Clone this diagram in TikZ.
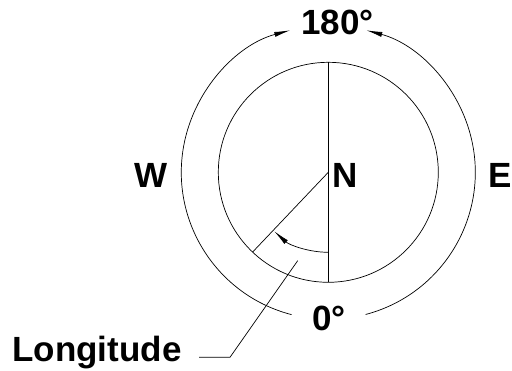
\documentclass[tikz,border=0pt]{standalone}
\usepackage{fontspec}
\setmainfont{Liberation Sans}
\usetikzlibrary{arrows.meta,calc}
\tikzset{
  thin line/.style={line width=0.7pt, black},
  tip/.style={-{Latex[length=16pt,width=5pt]}},
  lbl/.style={font=\fontsize{35}{40}\selectfont\bfseries, anchor=base, inner sep=0pt},
}
\begin{document}
\begin{tikzpicture}[x=1pt,y=1pt]
\useasboundingbox (0,0) rectangle (512,370);
\coordinate (C) at (328.3,197.7);
% inner circle
\draw[thin line] (C) circle[radius=110];
\coordinate (top) at ($(C)+(90:110)$);
\coordinate (bot) at ($(C)+(270:110)$);
\coordinate (sp) at ($(C)+(226.5:110)$);
\draw[thin line] (top) -- (bot);
\draw[thin line] (C) -- (sp);
% small angle arc
\coordinate (a0) at ($(C)+(270:80)$);
\draw[thin line, tip] (a0) arc[start angle=270, end angle=227.5, radius=80];
% outer arcs
\coordinate (l0) at ($(C)+(255.5:147)$);
\coordinate (r0) at ($(C)+(-75.3:147)$);
\draw[thin line, tip] (l0) arc[start angle=255.5, end angle=105, radius=147];
\draw[thin line, tip] (r0) arc[start angle=-75.3, end angle=75, radius=147];
% labels
\node[lbl] (t180) at (337.5,335) {180°};
\node[lbl] (t0) at (329,40) {0°};
\node[lbl] (tN) at (345,182) {N};
\node[lbl] (tW) at (151,182) {W};
\node[lbl] (tE) at (500.5,182) {E};
\node[lbl] (tL) at (97,8.3) {Longitude};
% leader
\coordinate (lead0) at (297.7,109.3);
\coordinate (lead1) at (230,12.7);
\coordinate (lead2) at (199,12.7);
\draw[thin line] (lead0) -- (lead1) -- (lead2);
\end{tikzpicture}
\end{document}
